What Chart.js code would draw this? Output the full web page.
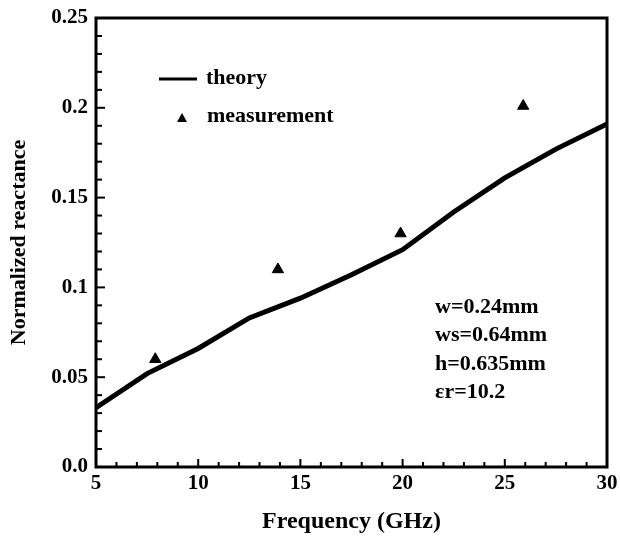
<!DOCTYPE html>
<html>
<head>
<meta charset="utf-8">
<script src="https://cdn.jsdelivr.net/npm/chart.js@4"></script>
<style>
  html, body { margin: 0; padding: 0; background: #fff; }
  #grafico { display: block; }
</style>
</head>
<body>
<canvas id="grafico" width="620" height="540"></canvas>
<script>
// datos
const frecuenciasTeoria = [5, 7.5, 10, 12.5, 15, 17.5, 20, 22.5, 25, 27.5, 30];
const reactanciaTeoria = [0.033, 0.052, 0.066, 0.083, 0.094, 0.107, 0.121, 0.142, 0.161, 0.177, 0.191];
const frecuenciasMedidas = [7.9, 13.9, 19.9, 25.9];
const reactanciaMedida = [0.06, 0.11, 0.13, 0.201];
const etiquetasLeyenda = ["theory", "measurement"];
const textoParametros = ["w=0.24mm", "ws=0.64mm", "h=0.635mm", "εr=10.2"];

const fuente = "'Liberation Serif', 'Times New Roman', serif";

function aPuntos(xs, ys) {
  return xs.map((x, i) => ({ x, y: ys[i] }));
}

// marco, ticks hacia adentro, leyenda y texto de parametros
const pluginMarco = {
  id: "marco",
  afterDatasetsDraw(chart) {
    const { ctx, chartArea: a, scales } = chart;
    const sx = scales.x, sy = scales.y;
    ctx.save();
    ctx.strokeStyle = "#000";
    ctx.lineWidth = 3;
    ctx.strokeRect(a.left, a.top, a.right - a.left, a.bottom - a.top);

    ctx.lineWidth = 2;
    for (let f = 5; f <= 30; f++) {
      const px = sx.getPixelForValue(f);
      const largo = f % 5 === 0 ? 8 : 5;
      ctx.beginPath();
      ctx.moveTo(px, a.bottom);
      ctx.lineTo(px, a.bottom - largo);
      ctx.stroke();
    }
    for (let i = 0; i <= 25; i++) {
      const py = sy.getPixelForValue(i / 100);
      const largo = i % 5 === 0 ? 9 : 6;
      ctx.beginPath();
      ctx.moveTo(a.left, py);
      ctx.lineTo(a.left + largo, py);
      ctx.stroke();
    }

    // leyenda
    ctx.fillStyle = "#000";
    ctx.font = `bold 22px ${fuente}`;
    ctx.textBaseline = "middle";
    ctx.lineWidth = 3;
    ctx.beginPath();
    ctx.moveTo(159, 79);
    ctx.lineTo(197, 79);
    ctx.stroke();
    ctx.fillText(etiquetasLeyenda[0], 206, 78);
    ctx.beginPath();
    ctx.moveTo(182, 113);
    ctx.lineTo(187, 122);
    ctx.lineTo(177, 122);
    ctx.closePath();
    ctx.fill();
    ctx.fillText(etiquetasLeyenda[1], 207, 116);

    textoParametros.forEach((t, i) => ctx.fillText(t, 435, 307 + i * 28.5));
    ctx.restore();
  },
};

new Chart(document.querySelector("#grafico"), {
  type: "scatter",
  data: {
    datasets: [
      {
        type: "line",
        label: "theory",
        data: aPuntos(frecuenciasTeoria, reactanciaTeoria),
        borderColor: "#000",
        borderWidth: 5,
        pointRadius: 0,
        tension: 0,
      },
      {
        label: "measurement",
        data: aPuntos(frecuenciasMedidas, reactanciaMedida),
        pointStyle: "triangle",
        pointRadius: 6.5,
        backgroundColor: "#000",
        borderColor: "#000",
      },
    ],
  },
  plugins: [pluginMarco],
  options: {
    responsive: false,
    animation: false,
    layout: { padding: { left: 0, top: 18, right: 13, bottom: 0 } },
    plugins: { legend: { display: false }, tooltip: { enabled: false } },
    scales: {
      x: {
        type: "linear",
        min: 5,
        max: 30,
        afterFit: (escala) => { escala.height = 73; },
        grid: { display: false },
        border: { display: false },
        ticks: {
          stepSize: 5,
          padding: -4,
          color: "#000",
          font: { family: fuente, size: 21, weight: "bold" },
        },
        title: {
          display: true,
          text: "Frequency (GHz)",
          color: "#000",
          font: { family: fuente, size: 24, weight: "bold" },
          padding: { top: 4, bottom: 4 },
        },
      },
      y: {
        type: "linear",
        min: 0,
        max: 0.25,
        afterFit: (escala) => { escala.width = 96; },
        grid: { display: false },
        border: { display: false },
        ticks: {
          stepSize: 0.05,
          padding: 0,
          color: "#000",
          font: { family: fuente, size: 21, weight: "bold" },
          callback: (v) => (v === 0 ? "0.0" : String(Math.round(v * 100) / 100)),
        },
        title: {
          display: true,
          text: "Normalized reactance",
          color: "#000",
          font: { family: fuente, size: 22, weight: "bold" },
          padding: { top: 6, bottom: 4 },
        },
      },
    },
  },
});
</script>
</body>
</html>
